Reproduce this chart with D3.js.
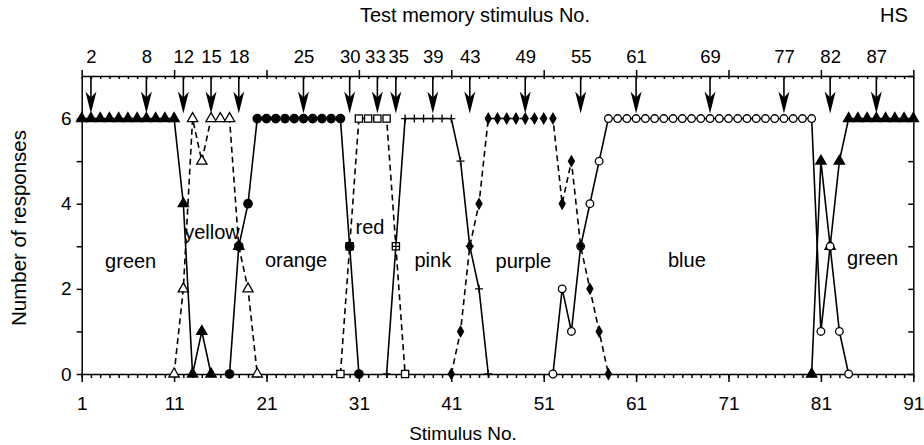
<!DOCTYPE html>
<html>
<head>
<meta charset="utf-8">
<script src="https://cdn.jsdelivr.net/npm/d3@7/dist/d3.min.js"></script>
<style>
  body { margin: 0; background: #fff; }
  text { font-family: "Liberation Sans", Arial, sans-serif; fill: #000; }
</style>
</head>
<body>
<svg width="924" height="445"></svg>
<script>
// the data: [stimulus No., number of responses]
var green1 = [[1,6],[2,6],[3,6],[4,6],[5,6],[6,6],[7,6],[8,6],[9,6],[10,6],[11,6],[12,4],[13,0],[14,1],[15,0]];
var yellow = [[11,0],[12,2],[13,6],[14,5],[15,6],[16,6],[17,6],[18,3],[19,2],[20,0]];
var orange = [[17,0],[18,3],[19,4],[20,6],[21,6],[22,6],[23,6],[24,6],[25,6],[26,6],[27,6],[28,6],[29,6],[30,3],[31,0]];
var red    = [[29,0],[30,3],[31,6],[32,6],[33,6],[34,6],[35,3],[36,0]];
var pink   = [[34,0],[35,3],[36,6],[37,6],[38,6],[39,6],[40,6],[41,6],[42,5],[43,3],[44,2],[45,0]];
var purple = [[41,0],[42,1],[43,3],[44,4],[45,6],[46,6],[47,6],[48,6],[49,6],[50,6],[51,6],[52,6],[53,4],[54,5],[55,3],[56,2],[57,1],[58,0]];
var blue   = [[52,0],[53,2],[54,1],[55,3],[56,4],[57,5],[58,6],[59,6],[60,6],[61,6],[62,6],[63,6],[64,6],[65,6],[66,6],[67,6],[68,6],[69,6],[70,6],[71,6],[72,6],[73,6],[74,6],[75,6],[76,6],[77,6],[78,6],[79,6],[80,6],[81,1],[82,3],[83,1],[84,0]];
var green2 = [[80,0],[81,5],[82,3],[83,5],[84,6],[85,6],[86,6],[87,6],[88,6],[89,6],[90,6],[91,6]];

var testStimuli = [2,8,12,15,18,25,30,33,35,39,43,49,55,61,69,77,82,87];
var xMajor = [1,11,21,31,41,51,61,71,81,91];
var yLabels = [0,2,4,6];

// colour-name labels inside the plot (x in stimulus No., y in responses)
var names = [
  {t:"green",  x:6.3,  y:2.5},
  {t:"yellow", x:15.1, y:3.18},
  {t:"orange", x:24.2, y:2.52},
  {t:"red",    x:32.2, y:3.28},
  {t:"pink",   x:39.0, y:2.52},
  {t:"purple", x:48.8, y:2.5},
  {t:"blue",   x:66.5, y:2.52},
  {t:"green",  x:86.6, y:2.57}
];

var svg = d3.select("svg");
var x = d3.scaleLinear().domain([1, 91]).range([81.7, 913.3]);
var y = d3.scaleLinear().domain([0, 7]).range([374, 76]);

var series = [
  {d:green2, m:"triF",  dash:false},
  {d:green1, m:"triF",  dash:false},
  {d:yellow, m:"triO",  dash:true},
  {d:red,    m:"sqO",   dash:true},
  {d:orange, m:"circF", dash:false},
  {d:pink,   m:"plus",  dash:false},
  {d:blue,   m:"circO", dash:false},
  {d:purple, m:"diam",  dash:true}
];

var allTicks = d3.range(1, 92);

// bottom axis
svg.append("g").attr("transform", "translate(0," + y(0) + ")")
  .call(d3.axisBottom(x).tickValues(allTicks).tickSize(4).tickFormat("").tickSizeOuter(0))
  .call(function(g){ g.select(".domain").remove(); });
svg.append("g").attr("transform", "translate(0," + y(0) + ")")
  .call(d3.axisBottom(x).tickValues(xMajor).tickSize(8).tickPadding(15).tickSizeOuter(0))
  .call(function(g){ g.selectAll("text").style("font-size", "19px"); });

// top axis
svg.append("g").attr("transform", "translate(0," + y(7) + ")")
  .call(d3.axisTop(x).tickValues(allTicks).tickSize(-3).tickFormat("").tickSizeOuter(0))
  .call(function(g){ g.select(".domain").remove(); });
svg.append("g").attr("transform", "translate(0," + y(7) + ")")
  .call(d3.axisTop(x).tickValues(xMajor).tickSize(6).tickFormat("").tickSizeOuter(0));
svg.append("g").attr("transform", "translate(0," + y(7) + ")")
  .call(d3.axisTop(x).tickValues(testStimuli).tickSize(0).tickPadding(13))
  .call(function(g){
    g.select(".domain").remove();
    g.selectAll("text").style("font-size", "18.5px")
      .attr("dx", function(d){ return d === 33 ? -2.5 : d === 35 ? 2.5 : 0; });
  });

// left / right axes
svg.append("g").attr("transform", "translate(" + x(1) + ",0)")
  .call(d3.axisLeft(y).tickValues(d3.range(0, 7)).tickSize(5).tickPadding(5).tickSizeOuter(0)
    .tickFormat(function(d){ return yLabels.indexOf(d) >= 0 ? d : ""; }))
  .call(function(g){ g.selectAll("text").style("font-size", "19px"); });
svg.append("g").attr("transform", "translate(" + x(91) + ",0)")
  .call(d3.axisRight(y).tickValues(d3.range(0, 8)).tickSize(-5).tickFormat("").tickSizeOuter(0));

svg.selectAll(".domain, .tick line").attr("stroke", "#000").attr("stroke-width", 1.5);

// arrows at the test memory stimuli
var arrows = svg.append("g");
testStimuli.forEach(function(s) {
  var ax = x(s), top = y(7), tip = y(6) - 5;
  arrows.append("line").attr("x1", ax).attr("x2", ax).attr("y1", top).attr("y2", tip - 8)
    .attr("stroke", "#000").attr("stroke-width", 1.6);
  arrows.append("path")
    .attr("d", "M" + ax + "," + tip + " L" + (ax - 5.5) + "," + (tip - 22) +
               " L" + ax + "," + (tip - 16) + " L" + (ax + 5.5) + "," + (tip - 22) + "Z")
    .attr("fill", "#000");
});

// lines
var line = d3.line().x(function(d){ return x(d[0]); }).y(function(d){ return y(d[1]); });
series.forEach(function(s) {
  svg.append("path").datum(s.d).attr("d", line)
    .attr("fill", "none").attr("stroke", "#000").attr("stroke-width", 1.6)
    .attr("stroke-dasharray", s.dash ? "6,4" : null);
});

// markers
var tri = d3.symbol().type(d3.symbolTriangle).size(46);
var dia = d3.symbol().type(d3.symbolDiamond).size(48);
series.forEach(function(s) {
  var g = svg.append("g");
  s.d.forEach(function(p) {
    var px = x(p[0]), py = y(p[1]);
    if (s.m === "triF" || s.m === "triO") {
      g.append("path").attr("d", tri()).attr("transform", "translate(" + px + "," + py + ")")
        .attr("fill", s.m === "triF" ? "#000" : "#fff").attr("stroke", "#000").attr("stroke-width", 1.3);
    } else if (s.m === "circF" || s.m === "circO") {
      g.append("circle").attr("cx", px).attr("cy", py).attr("r", s.m === "circF" ? 4.2 : 3.8)
        .attr("fill", s.m === "circF" ? "#000" : "#fff").attr("stroke", "#000").attr("stroke-width", 1.3);
    } else if (s.m === "sqO") {
      g.append("rect").attr("x", px - 3.6).attr("y", py - 3.6).attr("width", 7.2).attr("height", 7.2)
        .attr("fill", "#fff").attr("stroke", "#000").attr("stroke-width", 1.3);
    } else if (s.m === "plus") {
      g.append("path").attr("d", "M" + (px - 4) + "," + py + "H" + (px + 4) + "M" + px + "," + (py - 4) + "V" + (py + 4))
        .attr("stroke", "#000").attr("stroke-width", 1.3);
    } else {
      g.append("path").attr("d", dia()).attr("transform", "translate(" + px + "," + py + ")").attr("fill", "#000");
    }
  });
});

// colour names
svg.append("g").selectAll("text").data(names).enter().append("text")
  .attr("x", function(d){ return x(d.x); })
  .attr("y", function(d){ return y(d.y); })
  .attr("text-anchor", "middle").style("font-size", "20px")
  .text(function(d){ return d.t; });

// titles
svg.append("text").attr("x", 475).attr("y", 22).attr("text-anchor", "middle").style("font-size", "20px")
  .text("Test memory stimulus No.");
svg.append("text").attr("x", 894).attr("y", 22).attr("text-anchor", "middle").style("font-size", "20px")
  .text("HS");
svg.append("text").attr("x", 463).attr("y", 440).attr("text-anchor", "middle").style("font-size", "19px")
  .text("Stimulus No.");
svg.append("text").attr("transform", "translate(26,228) rotate(-90)").attr("text-anchor", "middle")
  .style("font-size", "20.5px").text("Number of responses");
</script>
</body>
</html>
